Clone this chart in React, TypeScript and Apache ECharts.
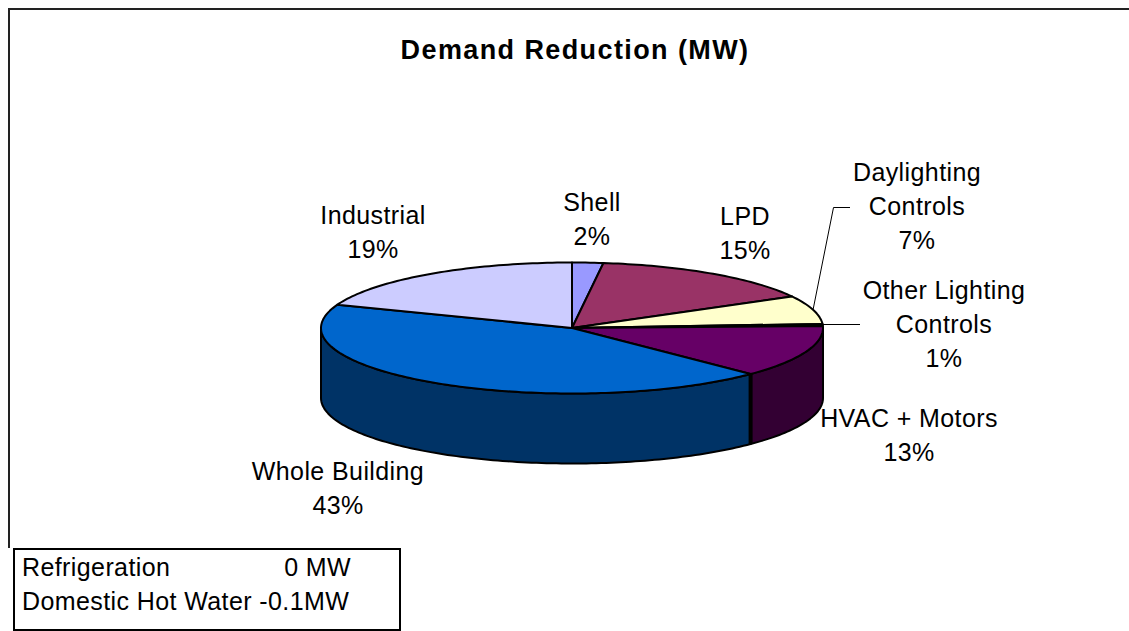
import React, { useEffect, useRef } from "react";
import * as echarts from "echarts";

const categories = ["Shell", "LPD", "Daylighting\nControls", "Other Lighting\nControls", "HVAC + Motors", "Whole Building", "Industrial"];
const sharePercent = [2, 15, 7, 0.5, 12.9, 43.4, 19.2];
const topColors = ["#9999FF", "#993366", "#FFFFCC", "#CCFFFF", "#660066", "#0066CC", "#CCCCFF"];
const sideColors = ["#4C4C80", "#4C1A33", "#808066", "#668080", "#330033", "#003366", "#666680"];
const chartTitle = "Demand Reduction (MW)";
const noteRows = [
  ["Refrigeration", "0 MW"],
  ["Domestic Hot Water", "-0.1MW"],
];

// Layout only
const W = 1129;
const H = 631;
const CX = 572;
const CY = 328;
const RX = 251;
const RY = 65.5;
const DEPTH = 70;
const FONT = "Liberation Sans";
const LABEL_SIZE = 25;
const LABEL_CENTERS: [number, number][] = [
  [592, 218.5],
  [745, 232.5],
  [917, 206],
  [944, 323.5],
  [909, 435],
  [338, 488],
  [373, 232],
];
const LEADERS: Record<number, [number, number][]> = {
  2: [[813, 310], [833.5, 207.5], [850, 207.5]],
  3: [[823, 324.5], [860, 324.5]],
};

const total = sharePercent.reduce((a, b) => a + b, 0);
const startAngles: number[] = [];
sharePercent.reduce((acc, v, i) => {
  startAngles[i] = (acc / total) * Math.PI * 2;
  return acc + v;
}, 0);
const pt = (a: number, dy = 0): [number, number] => [CX + RX * Math.sin(a), CY - RY * Math.cos(a) + dy];
const arc = (a0: number, a1: number, dy = 0): [number, number][] => {
  const n = Math.max(2, Math.ceil(Math.abs(a1 - a0) / 0.02));
  return Array.from({ length: n + 1 }, (_, i) => pt(a0 + ((a1 - a0) * i) / n, dy));
};

const renderSide = (params: any, api: any) => {
  const i = params.dataIndex;
  const a0 = startAngles[i];
  const a1 = a0 + (api.value(1) / total) * Math.PI * 2;
  const lo = Math.max(a0, Math.PI / 2);
  const hi = Math.min(a1, (Math.PI * 3) / 2);
  if (hi <= lo) return { type: "group", children: [] };
  const children: any[] = [
    {
      type: "polygon",
      shape: { points: [...arc(lo, hi), ...arc(hi, lo, DEPTH)] },
      style: { fill: sideColors[i], stroke: "#000", lineWidth: 2, lineJoin: "round" },
    },
  ];
  if (a0 > Math.PI / 2) {
    children.push({
      type: "polyline",
      shape: { points: [pt(a0), pt(a0, DEPTH)] },
      style: { fill: "none", stroke: "#000", lineWidth: 4 },
    });
  }
  return { type: "group", children };
};

const renderTop = (params: any, api: any) => {
  const i = params.dataIndex;
  const a0 = startAngles[i];
  const a1 = a0 + (api.value(1) / total) * Math.PI * 2;
  const children: any[] = [
    {
      type: "polygon",
      shape: { points: [[CX, CY], ...arc(a0, a1)] },
      style: { fill: topColors[i], stroke: "#000", lineWidth: 2, lineJoin: "round" },
    },
    {
      type: "text",
      x: LABEL_CENTERS[i][0],
      y: LABEL_CENTERS[i][1],
      style: {
        text: `${categories[i]}\n${Math.round(api.value(1))}%`,
        fontFamily: FONT,
        fontSize: LABEL_SIZE,
        lineHeight: 34,
        fill: "#000",
        align: "center",
        verticalAlign: "middle",
      },
      z2: 10,
    },
  ];
  if (LEADERS[i]) {
    children.push({
      type: "polyline",
      shape: { points: LEADERS[i] },
      style: { fill: "none", stroke: "#000", lineWidth: 1 },
      z2: 10,
    });
  }
  return { type: "group", children };
};

export default function App() {
  const ref = useRef<HTMLDivElement>(null);
  useEffect(() => {
    const chart = echarts.init(ref.current!, undefined, { renderer: "svg" });
    const data = categories.map((c, i) => ({ name: c, value: [i, sharePercent[i]] }));
    chart.setOption({
      animation: false,
      backgroundColor: "#fff",
      title: {
        text: chartTitle,
        left: 570,
        top: 31,
        textAlign: "center",
        textStyle: { fontFamily: FONT, fontWeight: "bold", fontSize: 27, color: "#000" },
      },
      graphic: [
        { type: "line", shape: { x1: 8, y1: 9, x2: W, y2: 9 }, style: { stroke: "#222", lineWidth: 2 }, z: 1 },
        { type: "line", shape: { x1: 9, y1: 9, x2: 9, y2: 548 }, style: { stroke: "#222", lineWidth: 2 }, z: 1 },
        { type: "rect", shape: { x: 14, y: 549, width: 386, height: 81 }, style: { fill: "#fff", stroke: "#000", lineWidth: 2 }, z: 2 },
        { type: "text", x: 22, y: 567, style: { text: noteRows[0][0], fontFamily: FONT, fontSize: LABEL_SIZE, fill: "#000", verticalAlign: "middle" }, z: 3 },
        { type: "text", x: 351, y: 567, style: { text: noteRows[0][1], fontFamily: FONT, fontSize: LABEL_SIZE, fill: "#000", align: "right", verticalAlign: "middle" }, z: 3 },
        { type: "text", x: 22, y: 601, style: { text: noteRows[1].join(" "), fontFamily: FONT, fontSize: LABEL_SIZE, fill: "#000", verticalAlign: "middle" }, z: 3 },
      ],
      series: [
        { type: "custom", coordinateSystem: "none", renderItem: renderSide, data, z: 4, silent: true },
        { type: "custom", coordinateSystem: "none", renderItem: renderTop, data, z: 5, silent: true },
      ],
    });
    return () => chart.dispose();
  }, []);
  return (
    <>
      <style>{`svg text{letter-spacing:.4px} svg text[style*="bold"]{letter-spacing:1.4px}`}</style>
      <div ref={ref} style={{ position: "fixed", left: 0, top: 0, width: W, height: H }} />
    </>
  );
}
